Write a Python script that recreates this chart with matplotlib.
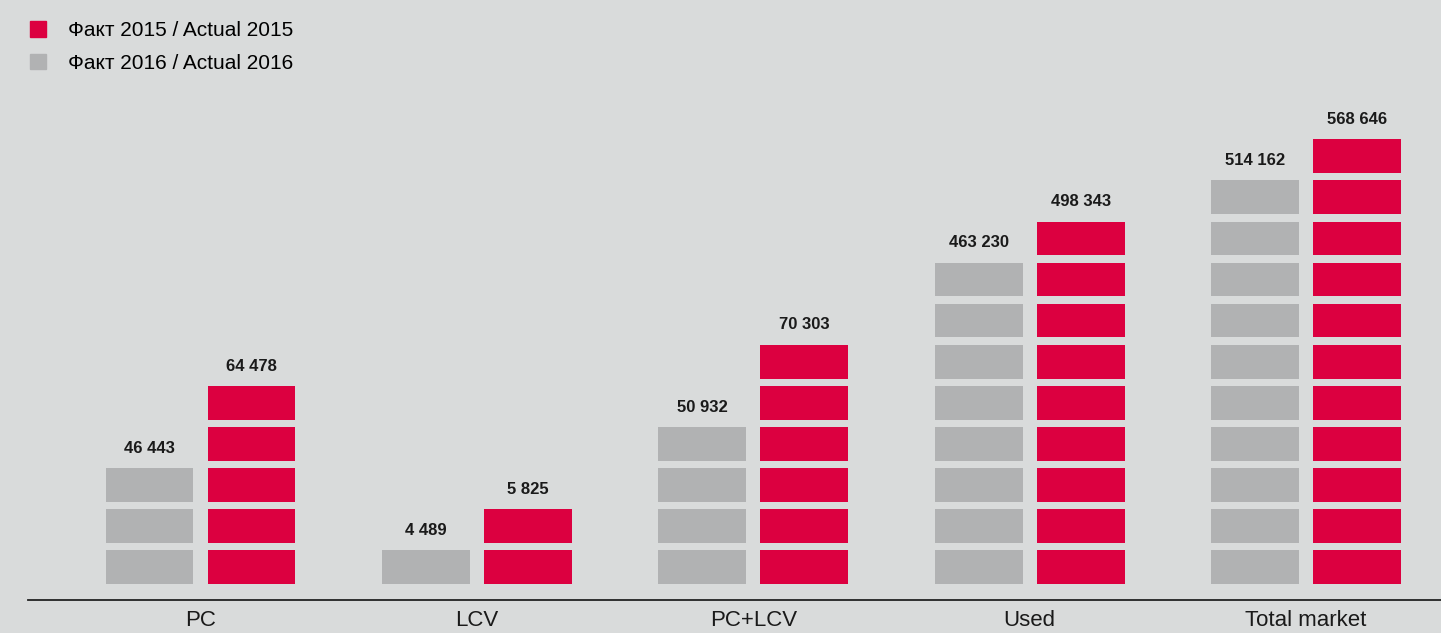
import matplotlib.pyplot as plt
from matplotlib.patches import Patch

# Данные
categories = ["PC", "LCV", "PC+LCV", "Used", "Total market"]
values_2016 = [46443, 4489, 50932, 463230, 514162]
values_2015 = [64478, 5825, 70303, 498343, 568646]
blocks_2016 = [3, 1, 4, 8, 10]
blocks_2015 = [5, 2, 6, 9, 11]

RED = "#dc0040"
GREY = "#b1b2b3"
BG = "#d9dbdb"

plt.rcParams["font.family"] = ["Liberation Sans", "DejaVu Sans"]

fig = plt.figure(figsize=(14.41, 6.33), dpi=100, facecolor=BG)
ax = fig.add_axes([0, 0, 1, 1])
ax.set_facecolor(BG)

x = list(range(len(categories)))
off = 0.1845
w = 0.318
h = 0.82


def fmt(v):
    return f"{v:,}".replace(",", " ")


for i in x:
    for k in range(blocks_2016[i]):
        ax.bar(i - off, h, w, bottom=k, color=GREY)
    for k in range(blocks_2015[i]):
        ax.bar(i + off, h, w, bottom=k, color=RED)
    ax.text(i - off, blocks_2016[i] - 1 + h + 0.3, fmt(values_2016[i]),
            ha="center", va="bottom", fontsize=12, fontweight="bold", color="#1a1a1a")
    ax.text(i + off, blocks_2015[i] - 1 + h + 0.3, fmt(values_2015[i]),
            ha="center", va="bottom", fontsize=12, fontweight="bold", color="#1a1a1a")
    ax.text(i, -0.9, categories[i], ha="center", va="center", fontsize=16, color="#1a1a1a")

ax.set_xlim(-0.7254, 4.488)
ax.set_ylim(-1.192, 14.21)
ax.axhline(-0.39, xmin=28 / 1441, xmax=1, color="#222222", lw=1.3)
ax.axis("off")

handles = [Patch(color=RED), Patch(color=GREY)]
ax.legend(handles, ["Факт 2015 / Actual 2015", "Факт 2016 / Actual 2016"],
          loc="upper left", bbox_to_anchor=(0.015, 0.9795), frameon=False,
          fontsize=15, handlelength=0.75, handleheight=0.75, handletextpad=1.1,
          labelspacing=0.65, borderaxespad=0)

fig.savefig("out.png", dpi=100, facecolor=BG)
